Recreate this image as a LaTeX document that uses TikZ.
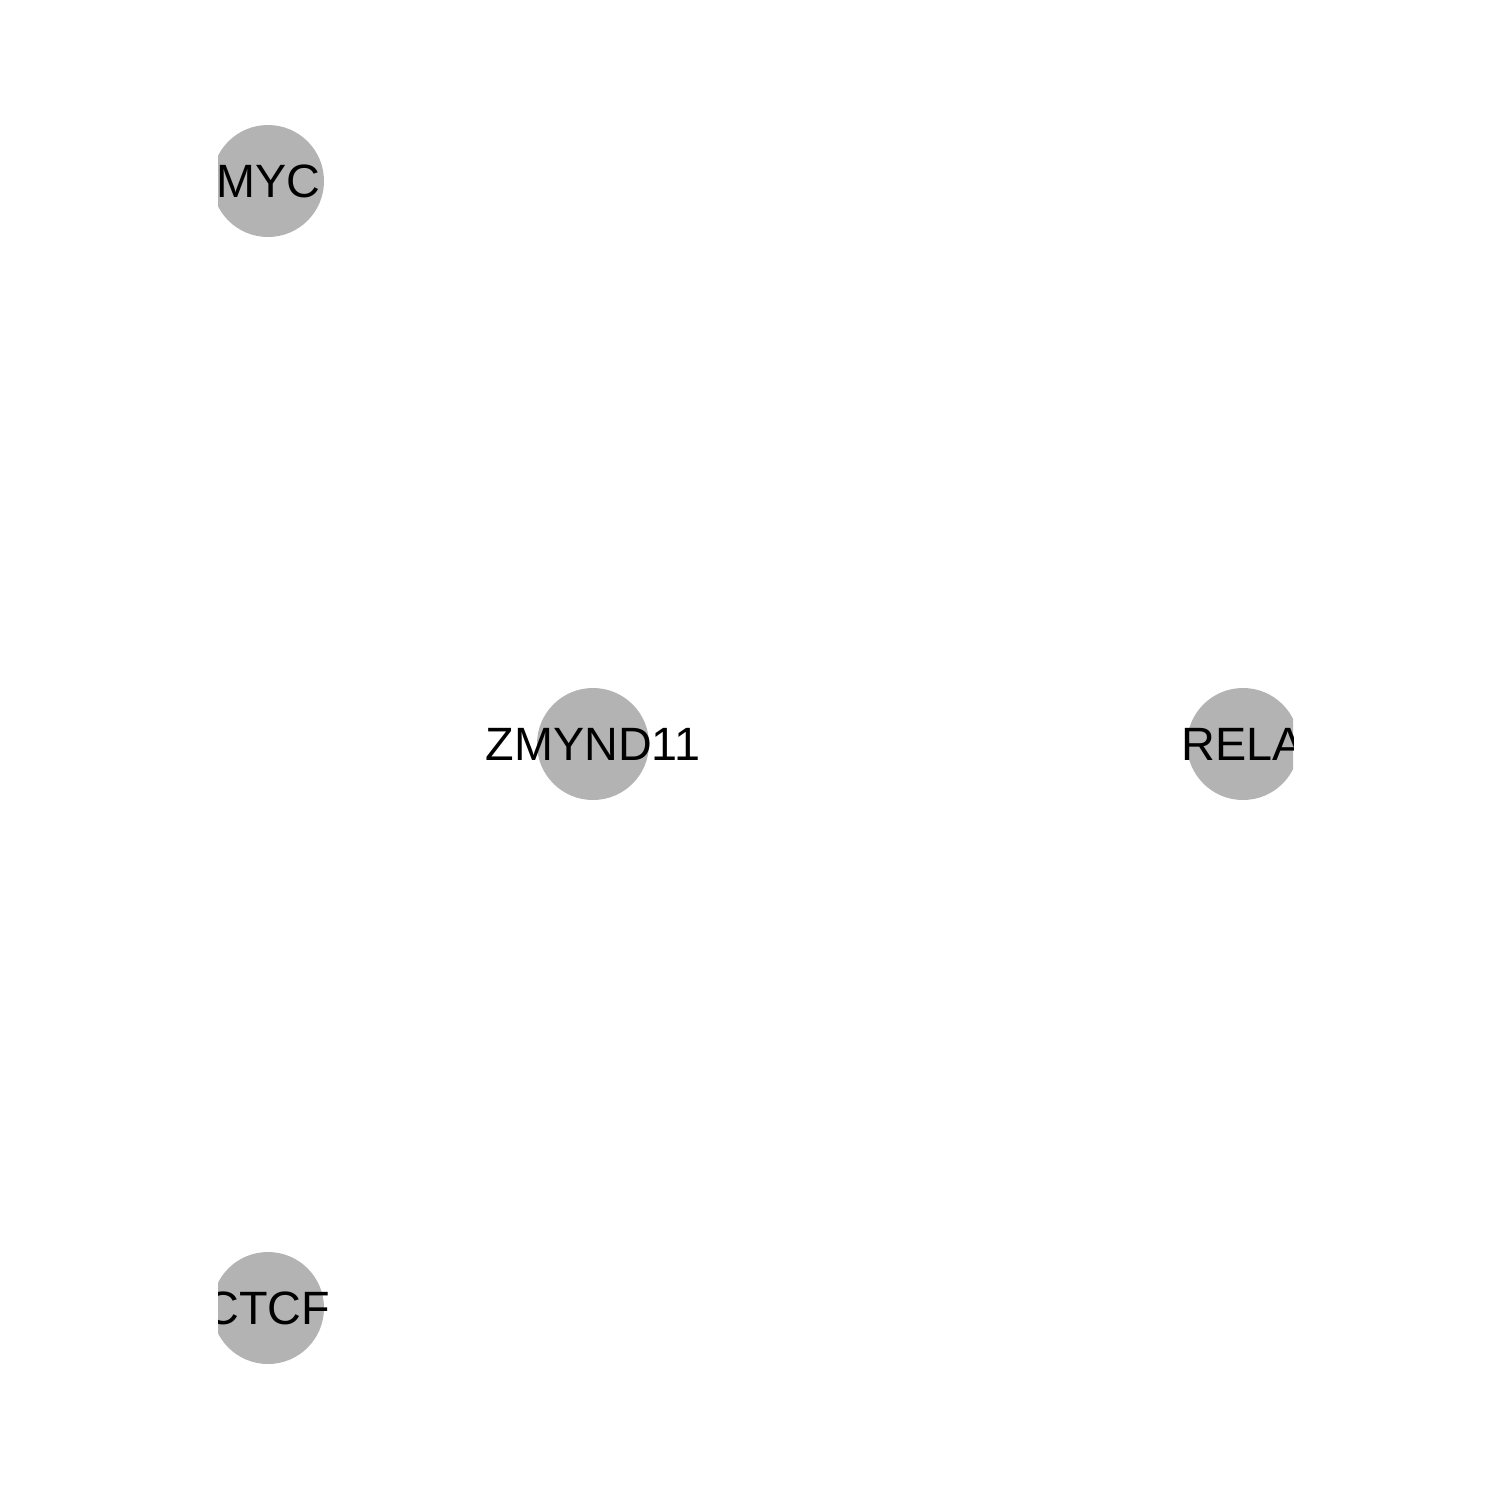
\documentclass[tikz,border=0pt]{standalone}
\usepackage{fontspec}
\setmainfont{Liberation Sans}
\usepackage{tikz}
\definecolor{nodegray}{RGB}{179,179,179}

\begin{document}
\begin{tikzpicture}[
    gene/.style={circle, fill=nodegray, draw=none, minimum size=1.12cm, inner sep=0pt,
                 label={[font=\fontsize{13.3}{15}\selectfont, text=black, inner sep=0pt]center:#1}},
    every node/.style={color=black}
    ]

    % canvas
    \useasboundingbox[fill=white] (0,0) rectangle (15,-15);
    % plot region
    \begin{scope}
    \clip (2.18,0) rectangle (12.93,-15);
    % genes
    \node[gene=MYC]     (myc)     at (2.68,-1.81)  {};
    \node[gene=ZMYND11] (zmynd11) at (5.93,-7.44)  {};
    \node[gene=RELA]    (rela)    at (12.43,-7.44) {};
    \node[gene=CTCF]    (ctcf)    at (2.68,-13.08) {};
    \end{scope}

\end{tikzpicture}
\end{document}
